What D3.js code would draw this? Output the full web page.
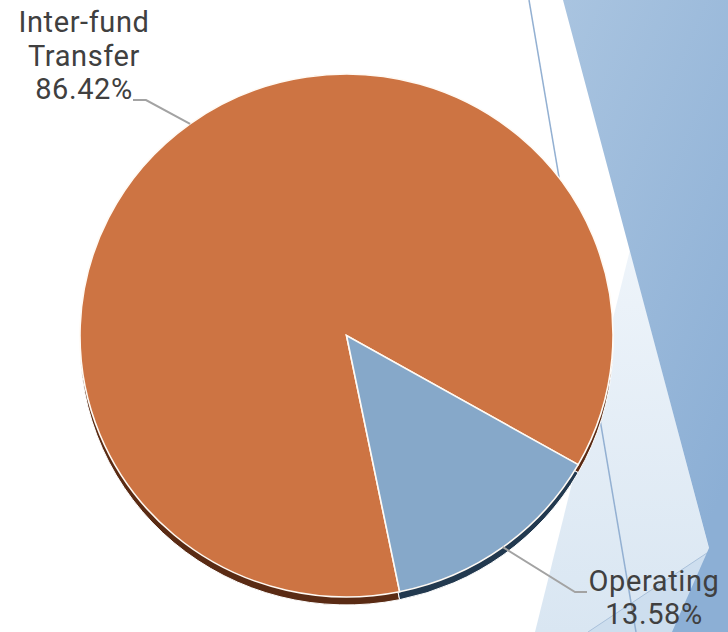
<!DOCTYPE html>
<html>
<head>
<meta charset="utf-8">
<script src="https://cdn.jsdelivr.net/npm/d3@7"></script>
<style>
  body { margin: 0; background: #fff; }
  svg { display: block; }
  text { font-family: Roboto, "Open Sans", sans-serif; fill: #404040; }
</style>
</head>
<body>
<svg id="chart" width="728" height="632"></svg>
<script>
const categories = ["Inter-fund Transfer", "Operating"];
const shares = [86.42, 13.58];
const labelWords = [["Inter-fund", "Transfer"], ["Operating"]];
const topColors = ["#cd7443", "#86a8c9"];
const sideColors = ["#5a2b14", "#22394f"];

const width = 728;
const height = 632;
const cx = 346.5, cy = 335.5;
const r = 266.5;
const ky = 0.981;   // slight tilt
const depth = 8;
const startDeg = 168.5;

const svg = d3.select("#chart");

// theme decoration on the right
const defs = svg.append("defs");
const grad = defs.append("linearGradient")
  .attr("id", "facet")
  .attr("x1", 0).attr("y1", 0).attr("x2", 0.6).attr("y2", 1);
grad.append("stop").attr("offset", "0%").attr("stop-color", "#a9c4e0");
grad.append("stop").attr("offset", "100%").attr("stop-color", "#8cafd5");

const pale = defs.append("linearGradient")
  .attr("id", "pale")
  .attr("x1", 0).attr("y1", 0).attr("x2", 0).attr("y2", 1);
pale.append("stop").attr("offset", "0%").attr("stop-color", "#eef4fa");
pale.append("stop").attr("offset", "100%").attr("stop-color", "#d9e6f2");

svg.append("polygon")
  .attr("points", "630,250 712,560 712,632 535,632")
  .attr("fill", "url(#pale)");
svg.append("polygon")
  .attr("points", "728,539 728,632 588,632")
  .attr("fill", "#c8daec")
  .attr("opacity", 0.7);
svg.append("line")
  .attr("x1", 728).attr("y1", 539).attr("x2", 588).attr("y2", 632)
  .attr("stroke", "#a9c0da").attr("stroke-width", 1);
svg.append("polygon")
  .attr("points", "563,0 728,0 728,632 672,632 709,548")
  .attr("fill", "url(#facet)");
svg.append("line")
  .attr("x1", 529).attr("y1", 0).attr("x2", 636).attr("y2", 632)
  .attr("stroke", "#93b0d2").attr("stroke-width", 1.5);

// pie
const pie = d3.pie()
  .sort(null)
  .value(d => d)
  .startAngle(startDeg * Math.PI / 180)
  .endAngle(startDeg * Math.PI / 180 + 2 * Math.PI);
const arcs = pie(shares);
const arc = d3.arc().innerRadius(0).outerRadius(r);
const edge = d3.arc().innerRadius(r).outerRadius(r);

const sideG = svg.append("g")
  .attr("transform", `translate(${cx},${cy + depth}) scale(1,${ky})`);
sideG.selectAll("path")
  .data(arcs)
  .join("path")
  .attr("d", arc)
  .attr("fill", (d, i) => sideColors[i])
  .attr("stroke", "#fff")
  .attr("stroke-width", 1);

const faceG = svg.append("g")
  .attr("transform", `translate(${cx},${cy}) scale(1,${ky})`);
faceG.selectAll("path")
  .data(arcs)
  .join("path")
  .attr("d", arc)
  .attr("fill", (d, i) => topColors[i])
  .attr("stroke", "#fffaf4")
  .attr("stroke-width", 1.6);

// labels
const fmt = d3.format(".2f");
const fontSize = 29;
const lineH = 33.5;
const labels = [
  { x: 84, y: 32, elbow: [[146, 100], [133, 100]] },
  { x: 654, y: 591, elbow: [[575, 592], [587, 592]] }
];

arcs.forEach((d, i) => {
  const L = labels[i];
  const lines = labelWords[i].concat([fmt(d.value) + "%"]);
  const t = svg.append("text")
    .attr("text-anchor", "middle")
    .attr("font-size", fontSize)
    .attr("letter-spacing", 0.6);
  lines.forEach((s, j) => {
    t.append("tspan")
      .attr("x", L.x)
      .attr("y", L.y + j * (i === 1 ? 33 : lineH))
      .text(s);
  });

  const c = edge.centroid(d);
  const p0 = [cx + c[0], cy + c[1] * ky];
  svg.append("path")
    .attr("d", d3.line()([p0].concat(L.elbow)))
    .attr("fill", "none")
    .attr("stroke", "#a3a3a3")
    .attr("stroke-width", 2);
});
</script>
</body>
</html>
